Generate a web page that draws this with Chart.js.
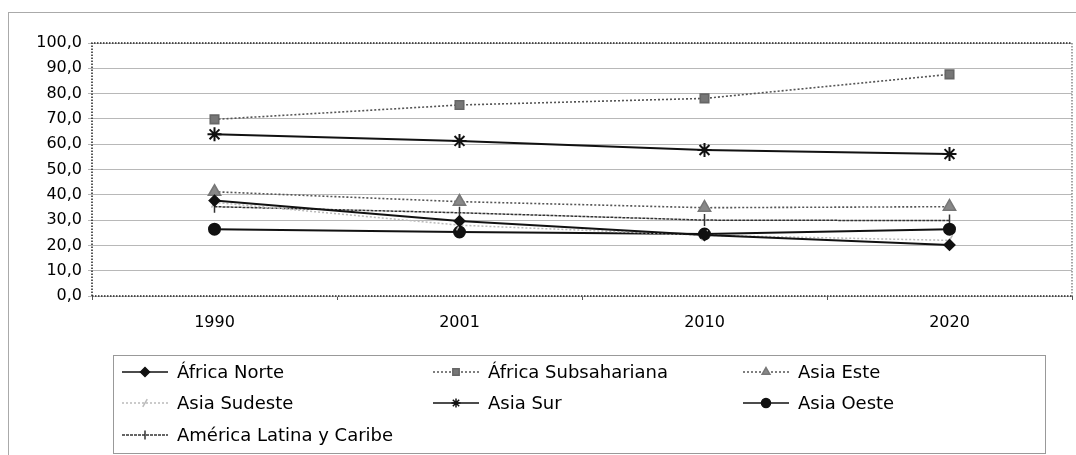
<!DOCTYPE html>
<html>
<head>
<meta charset="utf-8">
<script src="https://cdn.jsdelivr.net/npm/chart.js@4.4.1/dist/chart.umd.min.js"></script>
<style>
  html, body { margin: 0; padding: 0; background: #fff; }
  #wrap { width: 1076px; height: 455px; }
</style>
</head>
<body>
<div id="wrap"><canvas id="chart" width="1076" height="455"></canvas></div>
<script>
// --- Datos ---
const years = ['1990', '2001', '2010', '2020'];
const yTicks = [0, 10, 20, 30, 40, 50, 60, 70, 80, 90, 100];

const africaNorte = [37.7, 29.6, 24.1, 20.2];
const africaSubsahariana = [69.8, 75.5, 78.1, 87.6];
const asiaEste = [41.2, 37.3, 34.9, 35.3];
const asiaSudeste = [37.0, 28.0, 24.0, 22.0];
const asiaSur = [63.9, 61.3, 57.7, 56.1];
const asiaOeste = [26.4, 25.3, 24.5, 26.4];
const americaLatina = [35.3, 32.9, 30.0, 29.8];

const fontFamily = '"DejaVu Sans", Arial, sans-serif';
const fmt = v => v.toFixed(1).replace('.', ',');

const datasets = [
    { label: 'África Norte', data: africaNorte, borderColor: '#111', backgroundColor: '#111',
      borderWidth: 2, pointStyle: 'rectRot', pointRadius: 5 },
    { label: 'África Subsahariana', data: africaSubsahariana, borderColor: '#555', backgroundColor: '#777',
      borderWidth: 1.6, borderDash: [2, 2], pointStyle: 'rect', pointRadius: 6, pointBorderColor: '#666' },
    { label: 'Asia Este', data: asiaEste, borderColor: '#555', backgroundColor: '#888',
      borderWidth: 1.6, borderDash: [2, 2], pointStyle: 'triangle', pointRadius: 7, pointBorderColor: '#777' },
    { label: 'Asia Sudeste', data: asiaSudeste, borderColor: '#bbb', backgroundColor: '#bbb',
      borderWidth: 1.5, borderDash: [2, 2], pointStyle: 'line', pointRadius: 6, pointRotation: -60 },
    { label: 'Asia Sur', data: asiaSur, borderColor: '#111', backgroundColor: '#111',
      borderWidth: 2, pointStyle: 'star', pointRadius: 7, pointBorderWidth: 2 },
    { label: 'Asia Oeste', data: asiaOeste, borderColor: '#111', backgroundColor: '#111',
      borderWidth: 2, pointStyle: 'circle', pointRadius: 5.5 },
    { label: 'América Latina y Caribe', data: americaLatina, borderColor: '#333', backgroundColor: '#333',
      borderWidth: 1.5, borderDash: [3, 1], pointStyle: 'line', pointRadius: 6, pointRotation: 90, pointBorderWidth: 1.5 }
];
datasets.forEach(d => {
    d.fill = false;
    d.tension = 0;
    d.pointHoverRadius = d.pointRadius;
    d.pointBorderColor = d.pointBorderColor || d.borderColor;
});

// marco exterior + borde punteado del área del gráfico
const framePlugin = {
    id: 'frame',
    beforeDraw(chart) {
        const ctx = chart.ctx;
        ctx.save();
        ctx.strokeStyle = '#aaa';
        ctx.lineWidth = 1;
        ctx.strokeRect(8.5, 12.5, 1080, 460);
        ctx.restore();
    },
    beforeDatasetsDraw(chart) {
        const { left, right, top, bottom } = chart.chartArea;
        const ctx = chart.ctx;
        ctx.save();
        ctx.lineWidth = 1.5;
        ctx.setLineDash([1.5, 1.5]);
        ctx.strokeStyle = '#222';
        ctx.beginPath();
        ctx.moveTo(left, bottom); ctx.lineTo(left, top); ctx.lineTo(right, top);
        ctx.moveTo(left, bottom); ctx.lineTo(right, bottom);
        ctx.stroke();
        ctx.strokeStyle = '#888';
        ctx.beginPath();
        ctx.moveTo(right, top); ctx.lineTo(right, bottom);
        ctx.stroke();
        ctx.restore();
    }
};

// leyenda en recuadro, 3 columnas
const legendPlugin = {
    id: 'boxLegend',
    afterDraw(chart) {
        const ctx = chart.ctx;
        ctx.save();
        ctx.strokeStyle = '#999';
        ctx.lineWidth = 1;
        ctx.strokeRect(113.5, 355.5, 932, 98);
        const colX = [122, 433, 743];
        const rowY = [372, 403, 435];
        ctx.font = '18px ' + fontFamily;
        ctx.textBaseline = 'middle';
        chart.data.datasets.forEach((ds, i) => {
            const x = colX[i % 3];
            const y = rowY[Math.floor(i / 3)];
            ctx.save();
            ctx.strokeStyle = ds.borderColor;
            ctx.lineWidth = Math.min(ds.borderWidth, 1.5);
            ctx.setLineDash(ds.borderDash || []);
            ctx.beginPath();
            ctx.moveTo(x, y); ctx.lineTo(x + 46, y);
            ctx.stroke();
            ctx.setLineDash([]);
            ctx.fillStyle = ds.backgroundColor;
            ctx.strokeStyle = ds.pointBorderColor;
            Chart.helpers.drawPoint(ctx, {
                pointStyle: ds.pointStyle,
                radius: Math.min(ds.pointRadius, 4.5),
                rotation: ds.pointRotation || 0,
                borderWidth: ds.pointBorderWidth || 1
            }, x + 23, y);
            ctx.restore();
            ctx.fillStyle = '#000';
            ctx.fillText(ds.label, x + 55, y + 1);
        });
        ctx.restore();
    }
};

new Chart(document.getElementById('chart'), {
    type: 'line',
    data: { labels: years, datasets: datasets },
    options: {
        responsive: false,
        animation: false,
        layout: { autoPadding: false, padding: { left: 10, top: 43, right: 4, bottom: 119 } },
        plugins: {
            legend: { display: false },
            tooltip: { enabled: false }
        },
        scales: {
            x: {
                offset: true,
                grid: { offset: true, drawOnChartArea: false, drawTicks: true, tickLength: 4, color: '#555' },
                border: { display: false },
                ticks: { color: '#000', padding: 13, font: { family: fontFamily, size: 16 } },
                afterFit: s => { s.height = 40; s.paddingLeft = 0; s.paddingRight = 0; }
            },
            y: {
                min: 0,
                max: 100,
                afterBuildTicks: s => { s.ticks = yTicks.map(v => ({ value: v })); },
                grid: { color: '#b8b8b8', lineWidth: 1, drawTicks: true, tickLength: 4 },
                border: { display: false },
                ticks: { color: '#000', padding: 6, font: { family: fontFamily, size: 16 }, callback: v => fmt(v) },
                afterFit: s => { s.width = 82; }
            }
        }
    },
    plugins: [framePlugin, legendPlugin]
});
</script>
</body>
</html>
